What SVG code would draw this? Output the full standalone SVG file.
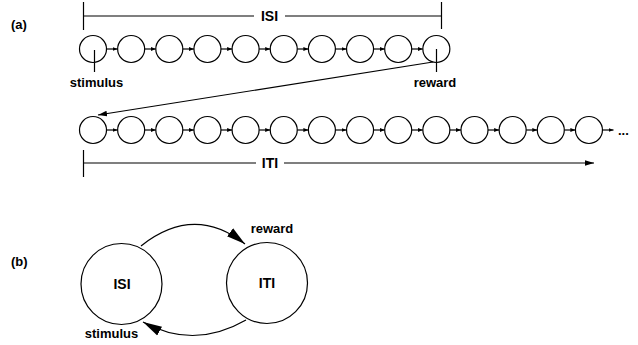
<svg xmlns="http://www.w3.org/2000/svg" width="638" height="345" viewBox="0 0 638 345">
<style>
text{font-family:"Liberation Sans",Arial,sans-serif;font-weight:bold;font-size:13px;fill:#000}
.big{font-size:14px}
.n{fill:#fff;stroke:#000;stroke-width:1.2}
.l{fill:none;stroke:#000;stroke-width:1.2}
</style>
<defs>
<marker id="sm" markerUnits="userSpaceOnUse" markerWidth="6" markerHeight="6" viewBox="0 0 6 6" refX="5" refY="3" orient="auto"><path d="M0,1 L5,3 L0,5 z" fill="#000"/></marker>
<marker id="md" markerUnits="userSpaceOnUse" markerWidth="10" markerHeight="8" viewBox="0 0 10 8" refX="9" refY="4" orient="auto"><path d="M0,1.2 L9,4 L0,6.8 z" fill="#000"/></marker>
<marker id="lg" markerUnits="userSpaceOnUse" markerWidth="20" markerHeight="12" viewBox="0 0 20 12" refX="19" refY="6" orient="auto"><path d="M0,1 L19,6 L0,11 z" fill="#000"/></marker>
</defs>
<text x="11" y="29">(a)</text>
<text x="11" y="266">(b)</text>
<g id="connectors">
<path class="l" d="M83.5,2 V30 M83.5,16 H254 M285,16 H441.5 M441.5,2 V29"/>
<path class="l" d="M83.5,150 V177 M83.5,163 H256"/>
<path class="l" d="M284,163 H594" marker-end="url(#md)"/>
<path class="l" d="M94.5,50 V72 M436.5,49 V72"/>
<path class="l" d="M433,62 L98,115" marker-end="url(#md)"/>
<g marker-end="url(#sm)">
<path class="l" d="M106.5,49 H117.6"/><path class="l" d="M144.6,49 H155.8"/><path class="l" d="M182.8,49 H193.9"/><path class="l" d="M220.9,49 H232.1"/><path class="l" d="M259.1,49 H270.2"/><path class="l" d="M297.2,49 H308.4"/><path class="l" d="M335.4,49 H346.5"/><path class="l" d="M373.5,49 H384.7"/><path class="l" d="M411.7,49 H422.8"/>
<path class="l" d="M106.5,130 H117.6"/><path class="l" d="M144.6,130 H155.8"/><path class="l" d="M182.8,130 H193.9"/><path class="l" d="M220.9,130 H232.1"/><path class="l" d="M259.1,130 H270.2"/><path class="l" d="M297.2,130 H308.4"/><path class="l" d="M335.4,130 H346.5"/><path class="l" d="M373.5,130 H384.7"/><path class="l" d="M411.7,130 H422.8"/><path class="l" d="M449.8,130 H461.0"/><path class="l" d="M488.0,130 H499.1"/><path class="l" d="M526.1,130 H537.3"/><path class="l" d="M564.3,130 H575.4"/><path class="l" d="M602.5,130 H613.5"/>
</g>
<path class="l" d="M141,246 Q194,204 245,244" marker-end="url(#lg)"/>
<path class="l" d="M246,320 Q194,350 143,322" marker-end="url(#lg)"/>
</g>
<text class="big" x="269.5" y="21" text-anchor="middle">ISI</text>
<text class="big" x="270" y="168" text-anchor="middle">ITI</text>
<text x="96.5" y="87" text-anchor="middle">stimulus</text>
<text x="435" y="87" text-anchor="middle">reward</text>
<text x="618" y="135">...</text>
<g id="isi-states">
<circle id="s0" class="n" cx="93" cy="49" r="13.5"/>
<circle id="s1" class="n" cx="131.15" cy="49" r="13.5"/>
<circle id="s2" class="n" cx="169.3" cy="49" r="13.5"/>
<circle id="s3" class="n" cx="207.45" cy="49" r="13.5"/>
<circle id="s4" class="n" cx="245.6" cy="49" r="13.5"/>
<circle id="s5" class="n" cx="283.75" cy="49" r="13.5"/>
<circle id="s6" class="n" cx="321.9" cy="49" r="13.5"/>
<circle id="s7" class="n" cx="360.05" cy="49" r="13.5"/>
<circle id="s8" class="n" cx="398.2" cy="49" r="13.5"/>
<circle id="s9" class="n" cx="436.35" cy="49" r="13.5"/>
</g>
<g id="iti-states">
<circle id="t0" class="n" cx="93" cy="130" r="13.5"/>
<circle id="t1" class="n" cx="131.15" cy="130" r="13.5"/>
<circle id="t2" class="n" cx="169.3" cy="130" r="13.5"/>
<circle id="t3" class="n" cx="207.45" cy="130" r="13.5"/>
<circle id="t4" class="n" cx="245.6" cy="130" r="13.5"/>
<circle id="t5" class="n" cx="283.75" cy="130" r="13.5"/>
<circle id="t6" class="n" cx="321.9" cy="130" r="13.5"/>
<circle id="t7" class="n" cx="360.05" cy="130" r="13.5"/>
<circle id="t8" class="n" cx="398.2" cy="130" r="13.5"/>
<circle id="t9" class="n" cx="436.35" cy="130" r="13.5"/>
<circle id="t10" class="n" cx="474.5" cy="130" r="13.5"/>
<circle id="t11" class="n" cx="512.65" cy="130" r="13.5"/>
<circle id="t12" class="n" cx="550.8" cy="130" r="13.5"/>
<circle id="t13" class="n" cx="588.95" cy="130" r="13.5"/>
</g>
<path class="l" d="M94.5,50 V62.5 M436.5,49 V62.5"/>
<g id="ISI">
<circle class="n" cx="121.5" cy="284" r="40.5"/>
<text class="big" x="122" y="289" text-anchor="middle">ISI</text>
</g>
<g id="ITI">
<circle class="n" cx="267" cy="283" r="40.5"/>
<text class="big" x="267" y="288" text-anchor="middle">ITI</text>
</g>
<text x="272" y="233" text-anchor="middle">reward</text>
<text x="111.5" y="338" text-anchor="middle">stimulus</text>
</svg>
